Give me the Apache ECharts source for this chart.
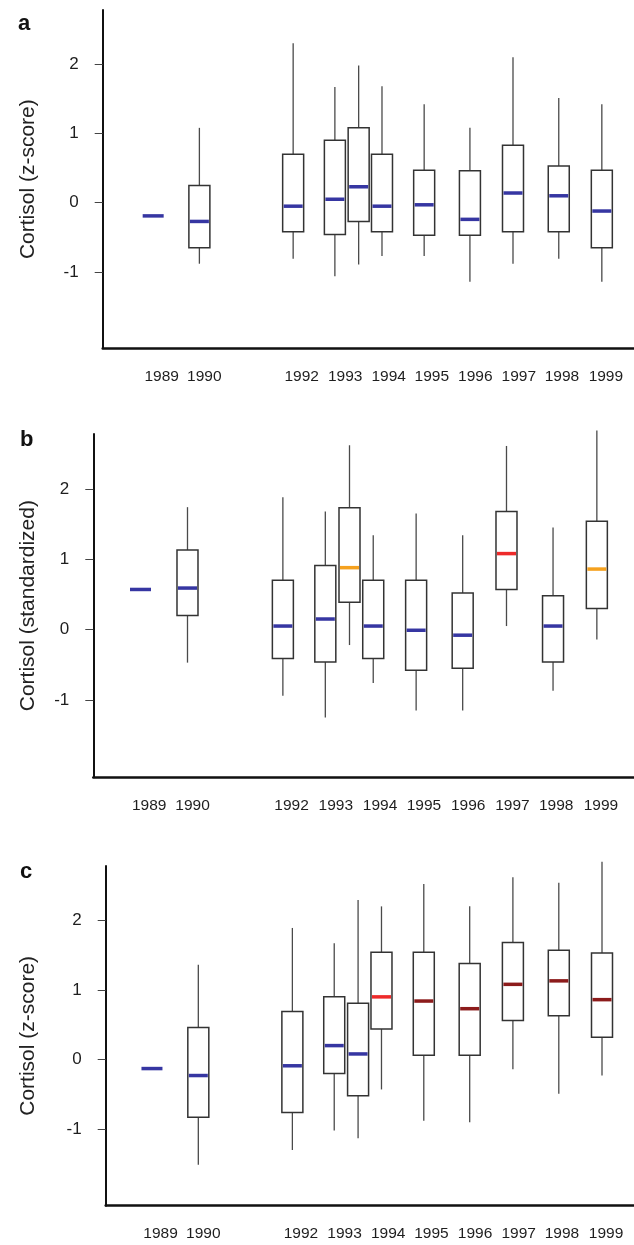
<!DOCTYPE html>
<html><head><meta charset="utf-8">
<script src="https://cdn.jsdelivr.net/npm/echarts@6/dist/echarts.min.js"></script>
<style>html,body{margin:0;padding:0;background:#fff}#c{width:634px;height:1245px}</style>
</head><body><div id="c"></div>
<script>
// ---- data ----
const boxAt      = [1989, 1990.03, 1992.12, 1993.05, 1993.58, 1994.10, 1995.04, 1996.06, 1997.02, 1998.04, 1999.00];
const yearLabels = ['1989','1990','1992','1993','1994','1995','1996','1997','1998','1999'];
const labelAt    = [1989.19, 1990.14, 1992.31, 1993.28, 1994.25, 1995.21, 1996.18, 1997.15, 1998.11, 1999.09];
const yTicks     = [-1, 0, 1, 2];

// panel a: Cortisol (z-score)
const aLo  = [null, -0.88, -0.81, -1.06, -0.89, -0.77, -0.77, -1.14, -0.88, -0.81, -1.14];
const aQ1  = [null, -0.65, -0.42, -0.46, -0.27, -0.42, -0.47, -0.47, -0.42, -0.42, -0.65];
const aMed = [-0.19, -0.27, -0.05, 0.05, 0.23, -0.05, -0.03, -0.24, 0.14, 0.10, -0.12];
const aQ3  = [null, 0.25, 0.70, 0.90, 1.08, 0.70, 0.47, 0.46, 0.83, 0.53, 0.47];
const aHi  = [null, 1.08, 2.30, 1.67, 1.98, 1.68, 1.42, 1.08, 2.10, 1.51, 1.42];
const aCol = ['B','B','B','B','B','B','B','B','B','B','B'];

// panel b: Cortisol (standardized)
const bLo  = [null, -0.47, -0.94, -1.25, -0.22, -0.76, -1.15, -1.15, 0.05, -0.87, -0.14];
const bQ1  = [null, 0.20, -0.41, -0.46, 0.39, -0.41, -0.58, -0.55, 0.57, -0.46, 0.30];
const bMed = [0.57, 0.59, 0.05, 0.15, 0.88, 0.05, -0.01, -0.08, 1.08, 0.05, 0.86];
const bQ3  = [null, 1.13, 0.70, 0.91, 1.73, 0.70, 0.70, 0.52, 1.68, 0.48, 1.54];
const bHi  = [null, 1.74, 1.88, 1.68, 2.62, 1.34, 1.65, 1.34, 2.61, 1.45, 2.83];
const bCol = ['B','B','B','B','O','B','B','B','R','B','O'];

// panel c: Cortisol (z-score)
const cLo  = [null, -1.51, -1.30, -1.02, -1.13, -0.43, -0.88, -0.90, -0.14, -0.49, -0.23];
const cQ1  = [null, -0.83, -0.76, -0.20, -0.52, 0.44, 0.06, 0.06, 0.56, 0.63, 0.32];
const cMed = [-0.13, -0.23, -0.09, 0.20, 0.08, 0.90, 0.84, 0.73, 1.08, 1.13, 0.86];
const cQ3  = [null, 0.46, 0.69, 0.90, 0.81, 1.54, 1.54, 1.38, 1.68, 1.57, 1.53];
const cHi  = [null, 1.36, 1.89, 1.67, 2.29, 2.20, 2.52, 2.20, 2.62, 2.54, 2.84];
const cCol = ['B','B','B','B','B','R','D','D','D','D','D'];

// ---- styles ----
const COLORS = {B:'#3636a2', O:'#f5a11e', R:'#ee2a2a', D:'#8c1b1b'};
const FONT = '"Liberation Sans", Arial, Helvetica, sans-serif';
const BOX_W = 21;

const panels = [
  {lo:aLo,q1:aQ1,med:aMed,q3:aQ3,hi:aHi,col:aCol, name:'Cortisol (z-score)',
   left:102.7, top:10, height:338.3, width:540, xmin:1987.875, xmax:1999.717, gap:64, letter:'a', lx:18, ly:24},
  {lo:bLo,q1:bQ1,med:bMed,q3:bQ3,hi:bHi,col:bCol, name:'Cortisol (standardized)',
   left:93.3, top:434, height:343.3, width:550, xmin:1987.966, xmax:1999.814, gap:55, letter:'b', lx:20, ly:440},
  {lo:cLo,q1:cQ1,med:cMed,q3:cQ3,hi:cHi,col:cCol, name:'Cortisol (z-score)',
   left:105.7, top:866, height:339.7, width:540, xmin:1987.972, xmax:1999.711, gap:67, letter:'c', lx:20, ly:872}
];

function makeRender(p) {
  return function (params, api) {
    const i = params.dataIndex;
    const x = boxAt[i];
    const half = BOX_W / 2;
    const children = [];
    const pm = api.coord([x, p.med[i]]);
    if (p.q1[i] !== null) {
      const pq1 = api.coord([x, p.q1[i]]);
      const pq3 = api.coord([x, p.q3[i]]);
      const plo = api.coord([x, p.lo[i]]);
      const phi = api.coord([x, p.hi[i]]);
      const ls = {stroke:'#4a4a4a', lineWidth:1.3};
      children.push({type:'line', shape:{x1:phi[0], y1:phi[1], x2:pq3[0], y2:pq3[1]}, style:ls});
      children.push({type:'line', shape:{x1:pq1[0], y1:pq1[1], x2:plo[0], y2:plo[1]}, style:ls});
      children.push({type:'rect', shape:{x:pq3[0]-half, y:pq3[1], width:BOX_W, height:pq1[1]-pq3[1]},
        style:{fill:'#fff', stroke:'#333', lineWidth:1.5}});
      children.push({type:'line', shape:{x1:pm[0]-half+1, y1:pm[1], x2:pm[0]+half-1, y2:pm[1]},
        style:{stroke:COLORS[p.col[i]], lineWidth:3.5}});
    } else {
      children.push({type:'line', shape:{x1:pm[0]-half, y1:pm[1], x2:pm[0]+half, y2:pm[1]},
        style:{stroke:COLORS[p.col[i]], lineWidth:3.5}});
    }
    return {type:'group', children};
  };
}

const labelMap = {};
labelAt.forEach((v, k) => { labelMap[v.toFixed(2)] = yearLabels[k]; });

const option = {
  animation:false,
  backgroundColor:'#fff',
  grid: panels.map(p => ({left:p.left, top:p.top, width:p.width, height:p.height, containLabel:false})),
  xAxis: panels.map((p, k) => ({
    type:'value', gridIndex:k, min:p.xmin, max:p.xmax,
    axisLine:{show:true, onZero:false, lineStyle:{color:'#111', width:2.5}},
    axisTick:{show:false},
    splitLine:{show:false},
    axisLabel:{customValues:labelAt, margin:20, fontSize:15.5, fontFamily:FONT, color:'#1e1e1e',
      formatter:v => labelMap[Number(v).toFixed(2)] || ''}
  })),
  yAxis: panels.map((p, k) => ({
    type:'value', gridIndex:k, min:-2.1, max:2.78,
    name:p.name, nameLocation:'middle', nameGap:p.gap, nameRotate:90,
    nameTextStyle:{fontSize:21, fontFamily:FONT, color:'#222'},
    axisLine:{show:true, onZero:false, lineStyle:{color:'#111', width:2}},
    axisTick:{show:true, customValues:yTicks, length:8, lineStyle:{color:'#444', width:1}},
    splitLine:{show:false},
    axisLabel:{customValues:yTicks, margin:24, fontSize:17, fontFamily:FONT, color:'#1e1e1e'}
  })),
  series: panels.map((p, k) => ({
    type:'custom', xAxisIndex:k, yAxisIndex:k,
    renderItem: makeRender(p),
    encode:{x:0, y:1},
    data: boxAt.map((x, i) => [x, p.med[i]])
  })),
  graphic: panels.map(p => ({
    type:'text', x:p.lx, y:p.ly,
    style:{text:p.letter, font:'bold 22px ' + FONT, fill:'#111', verticalAlign:'middle', align:'left'}
  }))
};

const chart = echarts.init(document.getElementById('c'), null, {renderer:'canvas'});
chart.setOption(option);
</script>
</body></html>
